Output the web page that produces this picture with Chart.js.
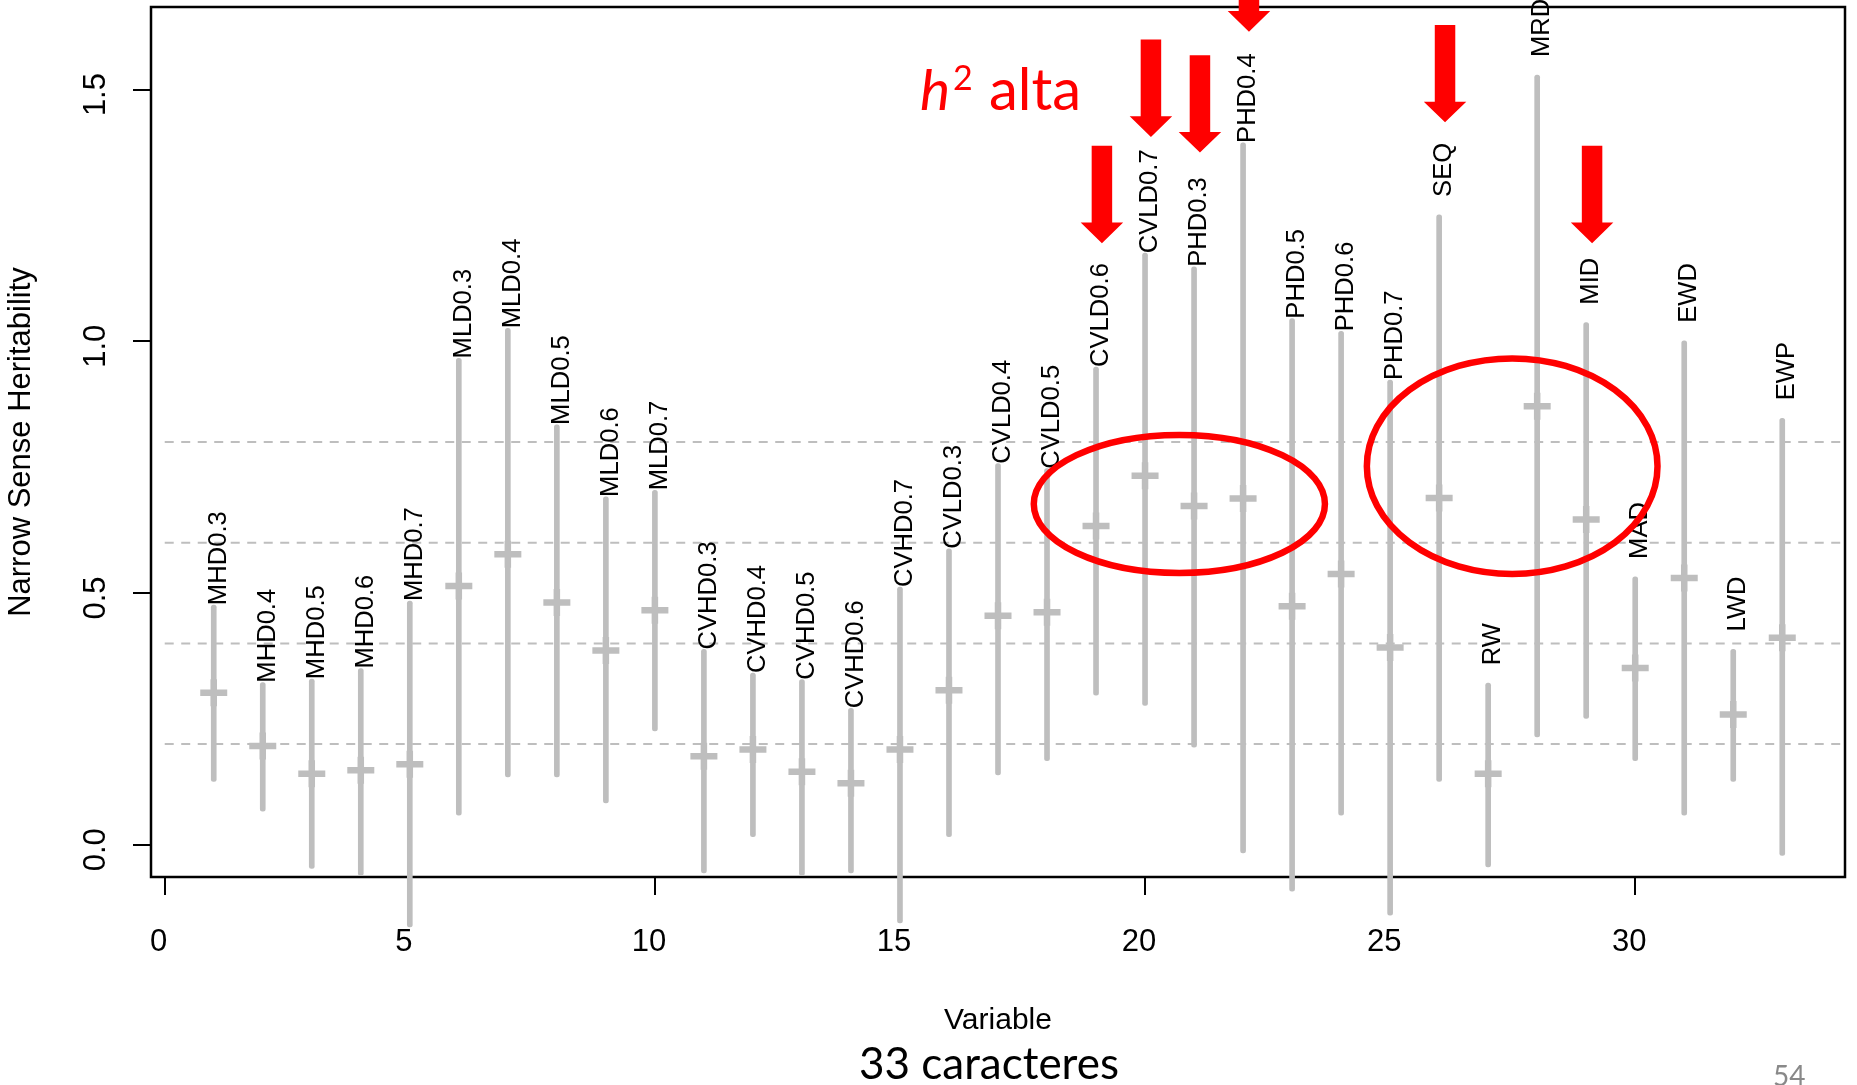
<!DOCTYPE html>
<html>
<head>
<meta charset="utf-8">
<title>Narrow Sense Heritability</title>
<script src="https://cdn.jsdelivr.net/npm/chart.js@4.4.1/dist/chart.umd.min.js"></script>
<style>
    html, body { margin: 0; padding: 0; background: #ffffff; }
    #heritChart { display: block; }
</style>
</head>
<body>
<canvas id="heritChart" width="1857" height="1085" style="width:1857px;height:1085px"></canvas>
<script>
// Variables, in plot order (x = 1..33)
const labels = ['MHD0.3', 'MHD0.4', 'MHD0.5', 'MHD0.6', 'MHD0.7',
    'MLD0.3', 'MLD0.4', 'MLD0.5', 'MLD0.6', 'MLD0.7',
    'CVHD0.3', 'CVHD0.4', 'CVHD0.5', 'CVHD0.6', 'CVHD0.7',
    'CVLD0.3', 'CVLD0.4', 'CVLD0.5', 'CVLD0.6', 'CVLD0.7',
    'PHD0.3', 'PHD0.4', 'PHD0.5', 'PHD0.6', 'PHD0.7',
    'SEQ', 'RW', 'MRD', 'MID', 'MAD', 'EWD', 'LWD', 'EWP'];

// Heritability estimate and interval limits
const estimate = [0.302, 0.196, 0.141, 0.148, 0.160, 0.514, 0.577, 0.481, 0.386, 0.466,
    0.176, 0.189, 0.145, 0.122, 0.189, 0.307, 0.455, 0.462, 0.633, 0.733,
    0.673, 0.688, 0.474, 0.538, 0.392, 0.689, 0.141, 0.871, 0.646, 0.351,
    0.530, 0.259, 0.411];
const lower = [0.126, 0.067, -0.047, -0.061, -0.163, 0.059, 0.135, 0.135, 0.083, 0.226,
    -0.056, 0.016, -0.061, -0.056, -0.155, 0.016, 0.139, 0.167, 0.297, 0.277,
    0.194, -0.016, -0.092, 0.059, -0.140, 0.126, -0.044, 0.214, 0.251, 0.167,
    0.059, 0.126, -0.021];
const upper = [0.476, 0.322, 0.329, 0.350, 0.484, 0.966, 1.026, 0.834, 0.691, 0.704,
    0.388, 0.341, 0.328, 0.271, 0.512, 0.588, 0.757, 0.747, 0.949, 1.175,
    1.148, 1.394, 1.045, 1.020, 0.923, 1.251, 0.321, 1.529, 1.037, 0.532,
    1.001, 0.388, 0.847];

// Axes and dashed reference lines
const xTicks = [0, 5, 10, 15, 20, 25, 30];
const yTicks = [0, 0.5, 1.0, 1.5];
const refLines = [0.2, 0.4, 0.6, 0.8];

// Slide annotations (data units): arrows over high h2 traits, circled groups
const arrowAt = [19, 20, 21, 22, 26, 29];
const arrowTip = [1.195, 1.406, 1.375, 1.615, 1.435, 1.195];
const ellipseX = [20.70, 27.49];
const ellipseY = [0.677, 0.752];
const ellipseRX = [2.97, 2.965];
const ellipseRY = [0.137, 0.214];

const varIndex = labels.map((_, k) => k + 1);
const grey = '#bebebe';
const red = '#ff0000';
const rFont = '"Liberation Sans", Arial, Helvetica, sans-serif';
const slideFont = 'Lato, "Open Sans", sans-serif';

Chart.defaults.font.family = rFont;
Chart.defaults.color = '#000';

const overlayPlugin = {
    id: 'overlay',
    beforeDatasetsDraw(chart) {
        const {ctx, chartArea: a} = chart;
        ctx.save();
        ctx.strokeStyle = '#000';
        ctx.lineWidth = 2.5;
        ctx.strokeRect(a.left, a.top, a.right - a.left, a.bottom - a.top);
        ctx.restore();
    },
    afterDatasetsDraw(chart) {
        const {ctx, scales: {x, y}} = chart;
        ctx.save();

        // variable names above each interval
        ctx.fillStyle = '#000';
        ctx.font = '25.6px ' + rFont;
        ctx.textAlign = 'left';
        ctx.textBaseline = 'middle';
        labels.forEach((lab, k) => {
            const gap = /D0\./.test(lab) ? 0 : 18;
            ctx.save();
            ctx.translate(x.getPixelForValue(varIndex[k]) + 5, y.getPixelForValue(upper[k]) - gap);
            ctx.rotate(-Math.PI / 2);
            ctx.fillText(lab, 0, 0);
            ctx.restore();
        });

        // red ellipses
        ctx.strokeStyle = red;
        ctx.lineWidth = 6.5;
        ellipseX.forEach((cx, k) => {
            const px = x.getPixelForValue(cx);
            const py = y.getPixelForValue(ellipseY[k]);
            const rx = Math.abs(x.getPixelForValue(cx + ellipseRX[k]) - px);
            const ry = Math.abs(y.getPixelForValue(ellipseY[k] + ellipseRY[k]) - py);
            ctx.beginPath();
            ctx.ellipse(px, py, rx, ry, 0, 0, Math.PI * 2);
            ctx.stroke();
        });

        // red down arrows
        ctx.fillStyle = red;
        arrowAt.forEach((v, k) => {
            const tx = x.getPixelForValue(v + 0.12);
            const ty = y.getPixelForValue(arrowTip[k]);
            ctx.beginPath();
            ctx.moveTo(tx - 10.25, ty - 97.3);
            ctx.lineTo(tx + 10.25, ty - 97.3);
            ctx.lineTo(tx + 10.25, ty - 20.6);
            ctx.lineTo(tx + 21.25, ty - 20.6);
            ctx.lineTo(tx, ty);
            ctx.lineTo(tx - 21.25, ty - 20.6);
            ctx.lineTo(tx - 10.25, ty - 20.6);
            ctx.closePath();
            ctx.fill();
        });

        // "h2 alta"
        ctx.textAlign = 'left';
        ctx.textBaseline = 'alphabetic';
        ctx.font = 'italic 57px ' + slideFont;
        ctx.fillText('h', 920, 110);
        ctx.font = '34px ' + slideFont;
        ctx.fillText('2', 953, 90);
        ctx.font = '58px ' + slideFont;
        ctx.fillText('alta', 989, 110);

        // slide caption and page number
        ctx.fillStyle = '#000';
        ctx.textAlign = 'center';
        ctx.font = '44px ' + slideFont;
        ctx.fillText('33 caracteres', 989, 1079);
        ctx.fillStyle = '#898989';
        ctx.textAlign = 'left';
        ctx.font = '28px ' + slideFont;
        ctx.fillText('54', 1773, 1086);

        ctx.restore();
    }
};

const refSets = refLines.map(h => ({
    type: 'line',
    data: [{x: 0, y: h}, {x: 34.2, y: h}],
    borderColor: grey,
    borderWidth: 2,
    borderDash: [9, 7.5],
    pointRadius: 0,
    order: 3
}));

new Chart(document.getElementById('heritChart'), {
    type: 'scatter',
    data: {
        datasets: [{
            type: 'scatter',
            data: varIndex.map((v, k) => ({x: v, y: estimate[k]})),
            pointStyle: 'cross',
            radius: 13.5,
            borderColor: grey,
            backgroundColor: grey,
            borderWidth: 6.5,
            order: 0
        }, {
            type: 'bar',
            data: varIndex.map((v, k) => ({x: v, y: [lower[k], upper[k]]})),
            backgroundColor: grey,
            barThickness: 5,
            borderRadius: 2.5,
            borderSkipped: false,
            clip: false,
            order: 1
        }, ...refSets]
    },
    options: {
        responsive: false,
        animation: false,
        events: [],
        layout: {
            autoPadding: false,
            padding: { top: 7, right: 12, bottom: 0, left: 0 }
        },
        plugins: {
            legend: { display: false },
            tooltip: { enabled: false }
        },
        scales: {
            x: {
                type: 'linear',
                min: -0.28,
                max: 34.28,
                offset: false,
                afterBuildTicks: scale => { scale.ticks = xTicks.map(v => ({value: v})); },
                afterFit: scale => {
                    scale.height = 208;
                    scale.paddingLeft = 0;
                    scale.paddingRight = 0;
                },
                grid: {
                    offset: false,
                    drawOnChartArea: false,
                    tickLength: 18,
                    color: '#000',
                    lineWidth: 2
                },
                border: { display: false },
                ticks: {
                    autoSkip: false,
                    maxRotation: 0,
                    padding: 29,
                    labelOffset: -6,
                    color: '#000',
                    font: { size: 31 },
                    callback: v => String(v)
                },
                title: {
                    display: true,
                    text: 'Variable',
                    color: '#000',
                    font: { size: 30 },
                    padding: { top: 0, bottom: 46 }
                }
            },
            y: {
                type: 'linear',
                min: -0.064,
                max: 1.664,
                afterBuildTicks: scale => { scale.ticks = yTicks.map(v => ({value: v})); },
                afterFit: scale => {
                    scale.width = 151;
                    scale.paddingTop = 0;
                    scale.paddingBottom = 0;
                },
                grid: {
                    drawOnChartArea: false,
                    tickLength: 18,
                    color: '#000',
                    lineWidth: 2
                },
                border: { display: false },
                ticks: {
                    autoSkip: false,
                    minRotation: 90,
                    maxRotation: 90,
                    crossAlign: 'center',
                    padding: 14.5,
                    labelOffset: 5,
                    color: '#000',
                    font: { size: 31 },
                    callback: v => v.toFixed(1)
                },
                title: {
                    display: true,
                    text: 'Narrow Sense Heritability',
                    color: '#000',
                    font: { size: 31 },
                    padding: { top: 3, bottom: 0 }
                }
            }
        }
    },
    plugins: [overlayPlugin]
});
</script>
</body>
</html>
